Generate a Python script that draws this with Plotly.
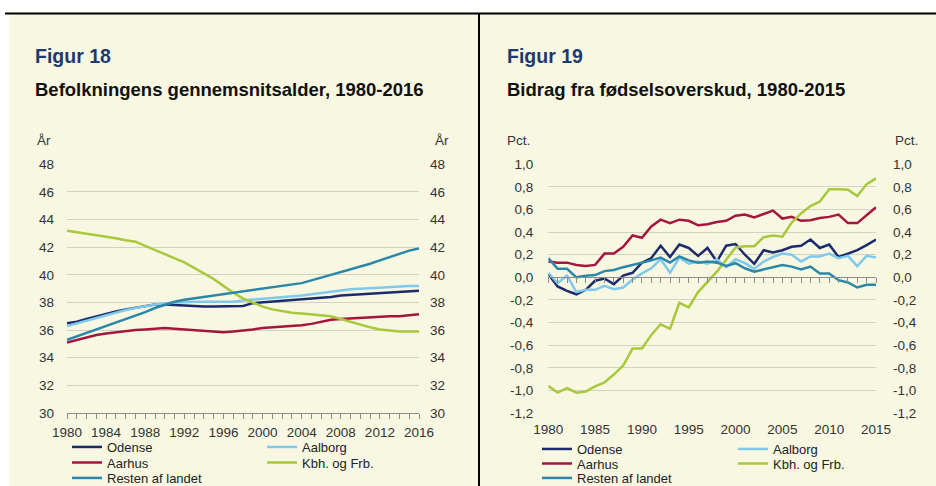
import plotly.graph_objects as go

# ---------- data ----------
years_age = list(range(1980, 2017))
odense_age = [36.5, 36.6, 36.8, 37.0, 37.2, 37.35, 37.5, 37.6, 37.75, 37.85, 37.85, 37.8, 37.75,
              37.7, 37.7, 37.7, 37.7, 37.7, 37.75, 37.95, 38.0, 38.05, 38.1, 38.15, 38.2, 38.25,
              38.3, 38.4, 38.5, 38.55, 38.6, 38.65, 38.65, 38.7, 38.75, 38.8, 38.85]
aalborg_age = [36.3, 36.5, 36.7, 36.9, 37.1, 37.3, 37.45, 37.6, 37.75, 37.85, 37.95, 38.0, 38.05,
               38.05, 38.05, 38.05, 38.0, 38.05, 38.15, 38.2, 38.25, 38.3, 38.35, 38.4, 38.5, 38.6,
               38.7, 38.8, 38.9, 38.95, 39.0, 39.05, 39.1, 39.1, 39.15, 39.2, 39.2]
aarhus_age = [35.1, 35.3, 35.5, 35.65, 35.75, 35.85, 35.95, 36.0, 36.05, 36.1, 36.15, 36.1, 36.05,
              36.0, 35.95, 35.9, 35.85, 35.9, 35.95, 36.05, 36.15, 36.2, 36.2, 36.3, 36.35, 36.45,
              36.6, 36.75, 36.8, 36.85, 36.9, 36.9, 36.95, 37.0, 37.0, 37.1, 37.15]
kbh_age = [43.2, 43.1, 43.0, 42.9, 42.8, 42.65, 42.5, 42.4, 42.1, 41.8, 41.5, 41.2, 40.9, 40.5,
           40.1, 39.7, 39.2, 38.7, 38.3, 38.0, 37.7, 37.5, 37.35, 37.25, 37.2, 37.15, 37.1, 37.0,
           36.8, 36.6, 36.35, 36.2, 36.05, 35.95, 35.9, 35.9, 35.9]
resten_age = [35.3, 35.55, 35.8, 36.0, 36.3, 36.55, 36.8, 37.05, 37.3, 37.6, 37.85, 38.05, 38.2,
              38.3, 38.4, 38.45, 38.55, 38.65, 38.8, 38.9, 39.0, 39.1, 39.2, 39.3, 39.4, 39.6,
              39.8, 39.95, 40.15, 40.35, 40.55, 40.8, 41.05, 41.3, 41.55, 41.75, 41.9]

years_bidrag = list(range(1980, 2016))
odense_bidrag = [0.03, -0.08, -0.12, -0.15, -0.11, -0.03, -0.01, -0.06, 0.015, 0.04, 0.13, 0.17,
                 0.28, 0.18, 0.29, 0.26, 0.19, 0.26, 0.14, 0.28, 0.295, 0.2, 0.12, 0.24, 0.22,
                 0.24, 0.27, 0.28, 0.335, 0.26, 0.29, 0.18, 0.21, 0.24, 0.285, 0.335]
aalborg_bidrag = [0.04, -0.05, 0.015, -0.13, -0.11, -0.11, -0.075, -0.105, -0.09, -0.02, 0.035,
                  0.08, 0.16, 0.04, 0.175, 0.12, 0.14, 0.12, 0.16, 0.09, 0.16, 0.125, 0.075, 0.14,
                  0.18, 0.21, 0.2, 0.14, 0.185, 0.185, 0.21, 0.17, 0.19, 0.10, 0.19, 0.175]
aarhus_bidrag = [0.14, 0.13, 0.13, 0.11, 0.10, 0.11, 0.21, 0.21, 0.27, 0.37, 0.35, 0.45, 0.51,
                 0.48, 0.51, 0.50, 0.46, 0.47, 0.49, 0.50, 0.545, 0.555, 0.53, 0.56, 0.59, 0.52,
                 0.535, 0.50, 0.505, 0.525, 0.535, 0.555, 0.48, 0.48, 0.55, 0.62]
kbh_bidrag = [-0.96, -1.02, -0.98, -1.02, -1.01, -0.965, -0.93, -0.86, -0.78, -0.63, -0.63, -0.51,
              -0.415, -0.455, -0.225, -0.265, -0.13, -0.04, 0.05, 0.155, 0.265, 0.275, 0.275,
              0.355, 0.37, 0.36, 0.485, 0.565, 0.63, 0.67, 0.78, 0.78, 0.775, 0.72, 0.825, 0.875]
resten_bidrag = [0.17, 0.075, 0.075, 0.0, 0.015, 0.02, 0.055, 0.065, 0.09, 0.11, 0.125, 0.15,
                 0.175, 0.13, 0.185, 0.15, 0.13, 0.14, 0.13, 0.10, 0.125, 0.08, 0.05, 0.07, 0.095,
                 0.11, 0.095, 0.07, 0.095, 0.035, 0.035, -0.025, -0.045, -0.09, -0.065, -0.065]

names = ["Odense", "Aalborg", "Aarhus", "Kbh. og Frb.", "Resten af landet"]
age_ticks = list(range(30, 49, 2))
pct_ticks = [-1.2, -1.0, -0.8, -0.6, -0.4, -0.2, 0.0, 0.2, 0.4, 0.6, 0.8, 1.0]
pct_labels = ["-1,2", "-1,0", "-0,8", "-0,6", "-0,4", "-0,2", "0,0", "0,2", "0,4", "0,6", "0,8", "1,0"]

# ---------- style ----------
W, H = 936, 486
CREAM = "#F8F7E2"
GRID = "#D3D2C4"
AXIS = "#8C8C8C"
TXT = "#333333"
COLORS = ["#1B2B6B", "#80C9EA", "#A5163F", "#A9C83A", "#2A87A7"]
FONT = "Liberation Sans, Arial, sans-serif"


def px_x(p):
    return p / W


def px_y(p):
    return 1 - p / H


# plot areas in pixels
L_X0, L_X1 = 67, 419
R_X0, R_X1 = 548.3, 876
Y_TOP, Y_BOT = 164.3, 413.0

fig = go.Figure()

age_series = [odense_age, aalborg_age, aarhus_age, kbh_age, resten_age]
pct_series = [odense_bidrag, aalborg_bidrag, aarhus_bidrag, kbh_bidrag, resten_bidrag]

# legend grid: (column, row) per series
leg_cell = [(0, 0), (1, 0), (0, 1), (1, 1), (0, 2)]
left_cols, left_rows = [107, 302], [447, 462.5, 478]
right_cols, right_rows = [577, 773], [449, 463.5, 478]

legends = {}
for i, (name, ys) in enumerate(zip(names, age_series)):
    lid = f"legend{i + 1}"
    fig.add_trace(go.Scatter(x=years_age, y=ys, name=name, mode="lines",
                             line=dict(color=COLORS[i], width=2.5),
                             xaxis="x", yaxis="y", legend=lid))
    c, r = leg_cell[i]
    legends[lid] = (left_cols[c], left_rows[r])

for i, (name, ys) in enumerate(zip(names, pct_series)):
    lid = f"legend{i + 6}"
    fig.add_trace(go.Scatter(x=years_bidrag, y=ys, name=name, mode="lines",
                             line=dict(color=COLORS[i], width=2.5),
                             xaxis="x2", yaxis="y2", legend=lid))
    c, r = leg_cell[i]
    legends[lid] = (right_cols[c], right_rows[r])

# invisible carriers so the mirrored axes get drawn
for xa, ya, xs, ys in [("x", "y3", years_age, kbh_age),
                       ("x2", "y4", years_bidrag, kbh_bidrag),
                       ("x3", "y2", years_bidrag, kbh_bidrag)]:
    fig.add_trace(go.Scatter(x=xs, y=ys, mode="lines", opacity=0, line=dict(width=0),
                             showlegend=False, hoverinfo="skip", xaxis=xa, yaxis=ya))

tickfont = dict(family=FONT, size=13.5, color=TXT)
ydom = [px_y(Y_BOT), px_y(Y_TOP)]
zero_pos = ydom[0] + (ydom[1] - ydom[0]) * (0 - pct_ticks[0]) / (pct_ticks[-1] - pct_ticks[0])

layout = dict(
    width=W, height=H,
    margin=dict(l=0, r=0, t=0, b=0, autoexpand=False),
    paper_bgcolor="white",
    plot_bgcolor="rgba(0,0,0,0)",
    showlegend=True,
    font=dict(family=FONT, color=TXT),
    xaxis=dict(domain=[px_x(L_X0), px_x(L_X1)], range=[1980, 2016], anchor="y",
               tick0=1980, dtick=4, ticks="outside", ticklen=5, tickcolor=AXIS,
               minor=dict(dtick=1, ticks="outside", ticklen=5, tickcolor=AXIS),
               showline=True, linecolor=AXIS, linewidth=1, showgrid=False, zeroline=False,
               tickfont=tickfont, ticklabelstandoff=2),
    yaxis=dict(domain=ydom, range=[30, 48], anchor="x", tickvals=age_ticks,
               showgrid=True, gridcolor=GRID, gridwidth=1, zeroline=False, ticks="",
               tickfont=tickfont, ticklabelstandoff=12),
    yaxis3=dict(overlaying="y", side="right", anchor="x", range=[30, 48], tickvals=age_ticks,
                showgrid=False, zeroline=False, ticks="", tickfont=tickfont, ticklabelstandoff=10),
    xaxis2=dict(domain=[px_x(R_X0), px_x(R_X1)], range=[1980, 2015], anchor="y2",
                tick0=1980, dtick=5, ticks="", showline=False, showgrid=False, zeroline=False,
                tickfont=tickfont, ticklabelstandoff=6),
    xaxis3=dict(overlaying="x2", anchor="free", position=zero_pos, range=[1980, 2015],
                tick0=1980, dtick=1, ticks="outside", ticklen=5, tickcolor=AXIS,
                showline=True, linecolor=AXIS, linewidth=1, showgrid=False, zeroline=False,
                showticklabels=False),
    yaxis2=dict(domain=ydom, range=[-1.2, 1.0], anchor="x2", tickvals=pct_ticks,
                ticktext=pct_labels, showgrid=True, gridcolor=GRID, gridwidth=1,
                zeroline=False, ticks="", tickfont=tickfont, ticklabelstandoff=14),
    yaxis4=dict(overlaying="y2", side="right", anchor="x2", range=[-1.2, 1.0],
                tickvals=pct_ticks, ticktext=pct_labels, showgrid=False, zeroline=False,
                ticks="", tickfont=tickfont, ticklabelstandoff=16),
)

for lid, (tx, ty) in legends.items():
    layout[lid] = dict(x=px_x(tx - 40), y=px_y(ty), xanchor="left", yanchor="middle",
                       bgcolor="rgba(0,0,0,0)", borderwidth=0,
                       font=dict(family=FONT, size=13, color="#222222"))

fig.update_layout(**layout)

# panel background and frame lines
fig.add_shape(type="rect", xref="paper", yref="paper", x0=px_x(9), x1=1, y0=0, y1=px_y(14),
              fillcolor=CREAM, line_width=0, layer="below")
fig.add_shape(type="line", xref="paper", yref="paper", x0=px_x(5), x1=1, y0=px_y(13.5), y1=px_y(13.5),
              line=dict(color="black", width=2))
fig.add_shape(type="line", xref="paper", yref="paper", x0=px_x(479), x1=px_x(479), y0=0, y1=px_y(13.5),
              line=dict(color="black", width=2))

# titles and unit labels
texts = [
    (33, 56, "<b>Figur 18</b>", 19.5, "#1B3A6E", "left"),
    (33, 89, "<b>Befolkningens gennemsnitsalder, 1980-2016</b>", 18.5, "#111111", "left"),
    (505, 56, "<b>Figur 19</b>", 19.5, "#1B3A6E", "left"),
    (505, 89, "<b>Bidrag fra fødselsoverskud, 1980-2015</b>", 18.5, "#111111", "left"),
    (53, 141, "År", 13.5, TXT, "right"),
    (433, 141, "År", 13.5, TXT, "left"),
    (532, 141, "Pct.", 13.5, TXT, "right"),
    (893, 141, "Pct.", 13.5, TXT, "left"),
]
for x, y, t, s, col, anc in texts:
    fig.add_annotation(x=px_x(x), y=px_y(y), xref="paper", yref="paper", text=t, showarrow=False,
                       xanchor=anc, yanchor="middle", font=dict(family=FONT, size=s, color=col))

fig.write_html("out.html", config={"displayModeBar": False},
               post_script="document.body.style.margin='0px';")
